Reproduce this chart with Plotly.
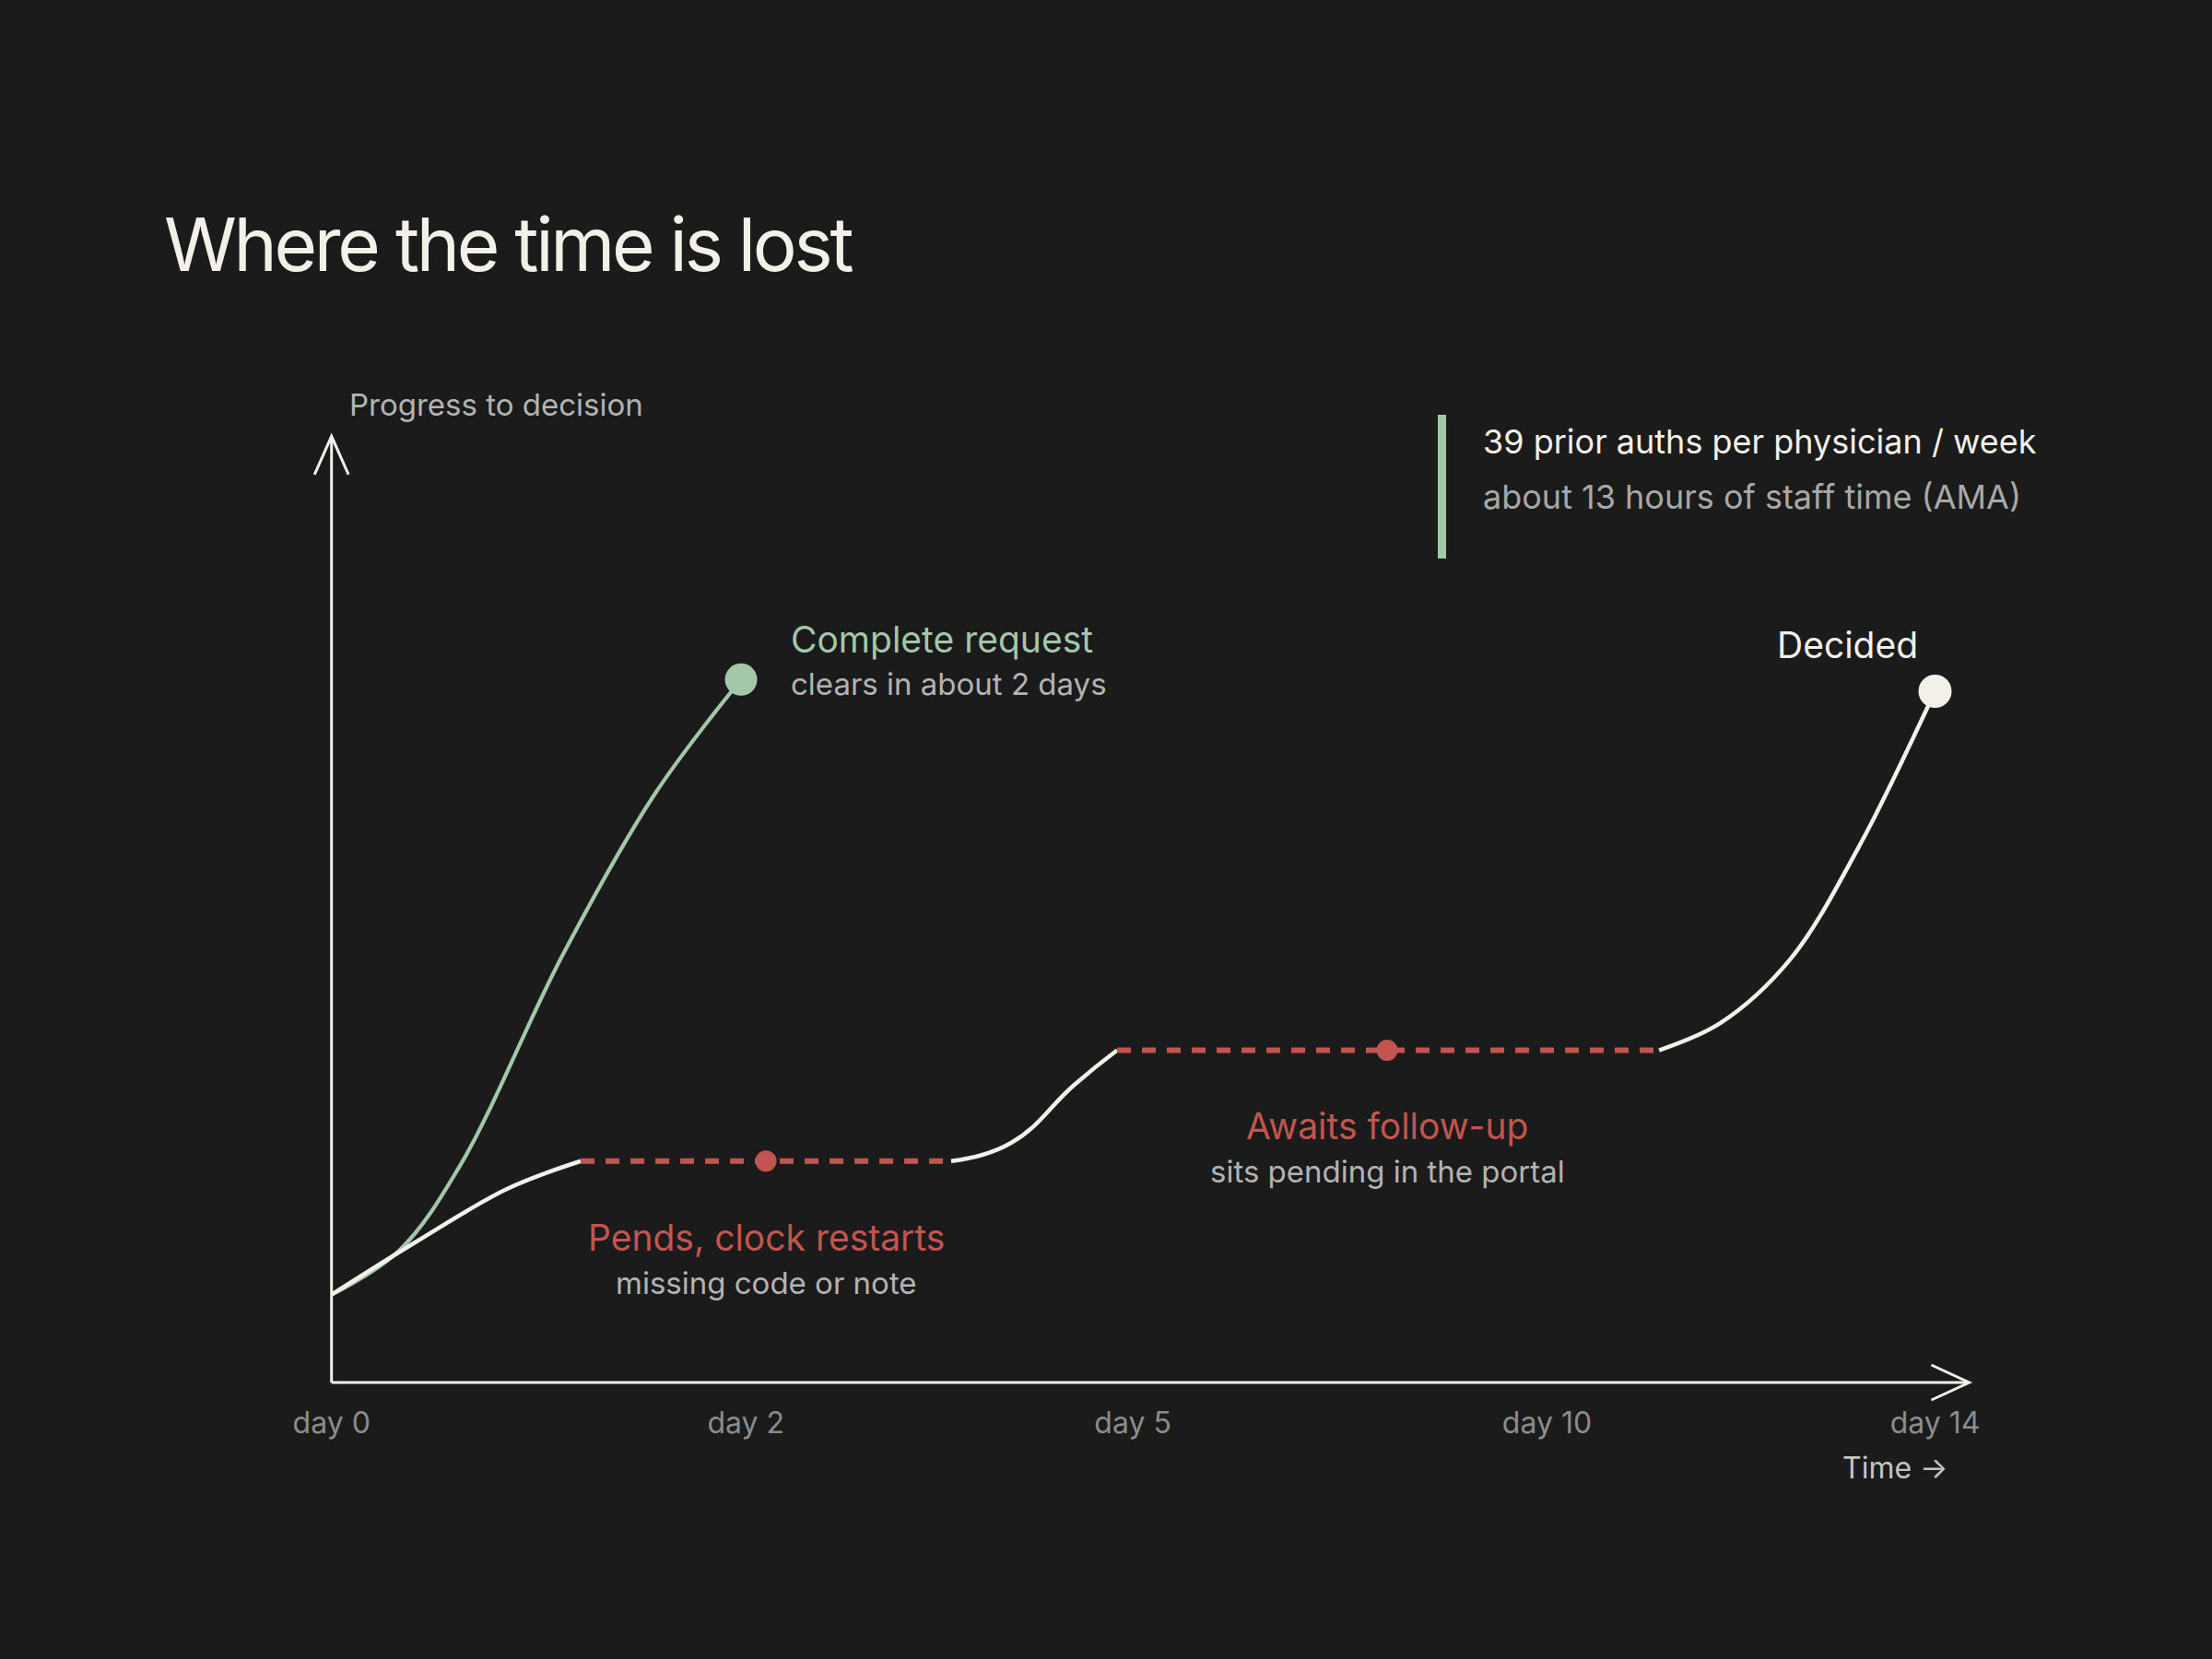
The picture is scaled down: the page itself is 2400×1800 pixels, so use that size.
import plotly.graph_objects as go

# ---------------- data ----------------
# x: position along the time axis (0 = day 0, 100 = day 14; schematic, not linear in days)
# y: progress to decision (0 = time axis, 100 = top of progress axis)
tick_pos = [0, 25.84, 49.97, 75.8, 100]
tick_labels = ["day 0", "day 2", "day 5", "day 10", "day 14"]

complete_x = [0, 4.23, 8.06, 14.39, 20.14, 25.54]
complete_y = [9.28, 13.96, 23.05, 45.10, 62.14, 74.29]

move1_x = [0, 5.19, 10.94, 15.54]
move1_y = [9.28, 14.78, 20.45, 23.4]

pend1_x = [15.54, 38.64]
pend1_y = [23.4, 23.4]
pend1_mid = (27.09, 23.4)

move2_x = [38.64, 42.38, 46.34, 48.99]
move2_y = [23.4, 25.32, 31.49, 35.11]

pend2_x = [48.99, 82.79]
pend2_y = [35.11, 35.11]
pend2_mid = (65.83, 35.11)

move3_x = [82.79, 86.62, 90.93, 95.2, 100.0]
move3_y = [35.11, 37.99, 44.64, 56.46, 73.05]

title_text = "Where the time is lost"
y_label = "Progress to decision"
x_label = "Time →"
callout_main = "39 prior auths per physician / week"
callout_sub = "about 13 hours of staff time (AMA)"

# ---------------- style ----------------
BG = "#1b1b1b"
WHITE = "#f3f0ea"
GREEN = "#a3c7a9"
RED = "#c4544f"
GREY = "#b3b3b3"
TICK = "#8c8c8c"
FONT = "Inter"

W, H = 2400, 1800
# pixel placement of the data frame
X0, SX = 359.7, 17.398   # px of x=0, px per x unit
Y0, SY = 1500.0, 10.267  # px of y=0, px per y unit

def px(xp):
    return xp / W

def py(yp):
    return 1 - yp / H

fig = go.Figure()

fig.add_trace(go.Scatter(x=complete_x, y=complete_y, mode="lines",
                         line=dict(color=GREEN, width=4.2, shape="spline", smoothing=1.0),
                         hoverinfo="skip"))
for xs, ys, sm in [(move1_x, move1_y, 1.0), (move2_x, move2_y, 1.3), (move3_x, move3_y, 1.0)]:
    fig.add_trace(go.Scatter(x=xs, y=ys, mode="lines",
                             line=dict(color=WHITE, width=4.5, shape="spline", smoothing=sm),
                             hoverinfo="skip"))
for xs, ys in [(pend1_x, pend1_y), (pend2_x, pend2_y)]:
    fig.add_trace(go.Scatter(x=xs, y=ys, mode="lines",
                             line=dict(color=RED, width=6, dash="15px,12px"), hoverinfo="skip"))
fig.add_trace(go.Scatter(x=[pend1_mid[0], pend2_mid[0]], y=[pend1_mid[1], pend2_mid[1]],
                         mode="markers", marker=dict(color=RED, size=23, line=dict(width=0)),
                         hoverinfo="skip"))
fig.add_trace(go.Scatter(x=[complete_x[-1]], y=[complete_y[-1]], mode="markers",
                         marker=dict(color=GREEN, size=35, line=dict(width=0)), hoverinfo="skip"))
fig.add_trace(go.Scatter(x=[move3_x[-1]], y=[move3_y[-1]], mode="markers",
                         marker=dict(color=WHITE, size=36, line=dict(width=0)), hoverinfo="skip"))

# axes with open arrowheads
x_tip = 102.13
y_tip = 100.0
shapes = [
    dict(type="line", xref="x", yref="y", x0=0, y0=0, x1=x_tip, y1=0,
         line=dict(color=WHITE, width=3)),
    dict(type="line", xref="x", yref="y", x0=0, y0=0, x1=0, y1=y_tip,
         line=dict(color=WHITE, width=3)),
    dict(type="path", xref="x", yref="y",
         path=f"M {x_tip-2.36},{1.85} L {x_tip},0 L {x_tip-2.36},{-1.85}",
         line=dict(color=WHITE, width=3)),
    dict(type="path", xref="x", yref="y",
         path=f"M {-1.06},{y_tip-4.06} L 0,{y_tip} L {1.06},{y_tip-4.06}",
         line=dict(color=WHITE, width=3)),
    dict(type="rect", xref="paper", yref="paper", x0=px(1560), x1=px(1569),
         y0=py(606), y1=py(450), fillcolor=GREEN, line=dict(width=0)),
]

def f(size, color):
    return dict(family=FONT, size=size, color=color)

ann = [
    dict(text=title_text, xref="paper", yref="paper", x=px(176), y=py(264),
         xanchor="left", yanchor="middle", align="left", font=f(80, WHITE)),
    dict(text=y_label, xref="paper", yref="paper", x=px(376.5), y=py(438.5),
         xanchor="left", yanchor="middle", font=f(33, GREY)),
    dict(text=x_label, xref="paper", yref="paper", x=px(2116), y=py(1592.5),
         xanchor="right", yanchor="middle", font=f(32, "#c4c4c4")),
    dict(text=callout_main, xref="paper", yref="paper", x=px(1607), y=py(479),
         xanchor="left", yanchor="middle", font=f(36, WHITE)),
    dict(text=callout_sub, xref="paper", yref="paper", x=px(1607), y=py(539),
         xanchor="left", yanchor="middle", font=f(36, "#a8a8a8")),
    # complete request
    dict(text="Complete request", x=complete_x[-1], y=complete_y[-1], xref="x", yref="y",
         xanchor="left", yanchor="middle", xshift=52, yshift=43.7, font=f(39, GREEN)),
    dict(text="clears in about 2 days", x=complete_x[-1], y=complete_y[-1], xref="x", yref="y",
         xanchor="left", yanchor="middle", xshift=52, yshift=-5, font=f(33, GREY)),
    # decided
    dict(text="Decided", x=move3_x[-1], y=move3_y[-1], xref="x", yref="y",
         xanchor="right", yanchor="middle", xshift=-17, yshift=50.7, font=f(39, WHITE)),
    # pends
    dict(text="Pends, clock restarts", x=pend1_mid[0], y=pend1_mid[1], xref="x", yref="y",
         xanchor="center", yanchor="middle", yshift=-82.7, font=f(39, RED)),
    dict(text="missing code or note", x=pend1_mid[0], y=pend1_mid[1], xref="x", yref="y",
         xanchor="center", yanchor="middle", yshift=-132, font=f(33, GREY)),
    # awaits
    dict(text="Awaits follow-up", x=pend2_mid[0], y=pend2_mid[1], xref="x", yref="y",
         xanchor="center", yanchor="middle", yshift=-82.4, font=f(39, RED)),
    dict(text="sits pending in the portal", x=pend2_mid[0], y=pend2_mid[1], xref="x", yref="y",
         xanchor="center", yanchor="middle", yshift=-131.5, font=f(33, GREY)),
]
for a in ann:
    a["showarrow"] = False

fig.update_layout(
    width=W, height=H,
    margin=dict(l=0, r=0, t=0, b=0, pad=0),
    paper_bgcolor=BG, plot_bgcolor=BG,
    showlegend=False,
    shapes=shapes,
    annotations=ann,
    xaxis=dict(range=[-X0 / SX, (W - X0) / SX], domain=[0, 1],
               anchor="free", position=1 - Y0 / H,
               showgrid=False, zeroline=False, showline=False,
               tickmode="array", tickvals=tick_pos, ticktext=tick_labels,
               ticks="outside", ticklen=16, tickcolor="rgba(0,0,0,0)",
               tickfont=f(32, TICK), fixedrange=True),
    yaxis=dict(range=[(Y0 - H) / SY, Y0 / SY], domain=[0, 1],
               showgrid=False, zeroline=False, showline=False,
               showticklabels=False, ticks="", fixedrange=True),
)

post = (
    "document.body.style.margin='0';document.body.style.overflow='hidden';"
    "var gd=document.getElementById('{plot_id}');"
    "gd.querySelectorAll('text.annotation-text').forEach(function(t){"
    "if(t.textContent==='" + title_text + "'){t.style.letterSpacing='-3.3px';}});"
)

fig.write_html("out.html", config={"displayModeBar": False}, post_script=post)
